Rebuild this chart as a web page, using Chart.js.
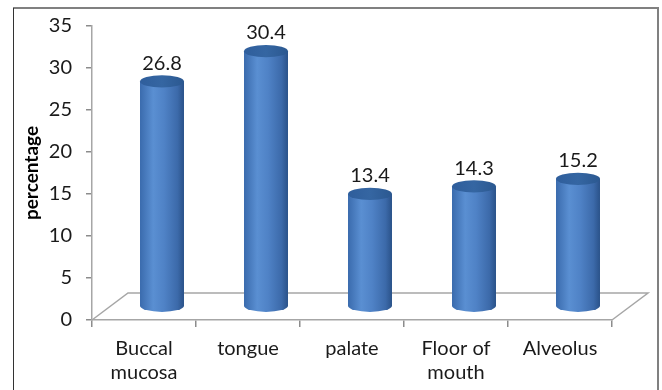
<!DOCTYPE html>
<html>
<head>
<meta charset="utf-8">
<script src="https://cdn.jsdelivr.net/npm/chart.js@4"></script>
<style>
  html, body { margin: 0; padding: 0; background: #fff; }
  canvas { display: block; }
</style>
</head>
<body>
<canvas id="chart" width="662" height="390"></canvas>
<script>
// Chart data
const categories = [["Buccal", "mucosa"], "tongue", "palate", ["Floor of", "mouth"], "Alveolus"];
const percentages = [26.8, 30.4, 13.4, 14.3, 15.2];
const yTicks = [0, 5, 10, 15, 20, 25, 30, 35];

const FONT = "Lato, 'Liberation Sans', sans-serif";
const DEPTH_X = 36, DEPTH_Y = 27; // floor depth of the fake 3D

// Frame round the picture
const framePlugin = {
  id: "frame",
  beforeDraw(chart) {
    const ctx = chart.ctx;
    ctx.save();
    ctx.fillStyle = "#fff";
    ctx.fillRect(0, 0, chart.width, chart.height);
    ctx.strokeStyle = "#808080";
    ctx.lineWidth = 2;
    ctx.beginPath();
    ctx.moveTo(13, 8);
    ctx.lineTo(658, 8);
    ctx.lineTo(658, chart.height);
    ctx.stroke();
    ctx.strokeStyle = "#333";
    ctx.lineWidth = 1;
    ctx.beginPath();
    ctx.moveTo(13.5, 8);
    ctx.lineTo(13.5, chart.height);
    ctx.stroke();
    ctx.restore();
  }
};

// Floor plane of the 3D chart
const floorPlugin = {
  id: "floor",
  beforeDatasetsDraw(chart) {
    const { ctx, chartArea } = chart;
    const l = chartArea.left, r = chartArea.right, b = chartArea.bottom;
    ctx.save();
    ctx.strokeStyle = "#a6a6a6";
    ctx.lineWidth = 1.5;
    ctx.beginPath();
    ctx.moveTo(l, b);
    ctx.lineTo(l + DEPTH_X, b - DEPTH_Y);
    ctx.lineTo(r + DEPTH_X, b - DEPTH_Y);
    ctx.lineTo(r, b);
    ctx.stroke();
    ctx.restore();
  }
};

// Cylinders drawn over the (invisible) bars
const cylinderPlugin = {
  id: "cylinders",
  afterDatasetsDraw(chart) {
    const ctx = chart.ctx;
    const meta = chart.getDatasetMeta(0);
    meta.data.forEach((bar, i) => {
      const w = bar.width;
      const cx = bar.x + DEPTH_X / 2;
      const top = bar.y - DEPTH_Y / 2;
      const base = bar.base - DEPTH_Y / 2;
      const rx = w / 2, ry = w * 0.14;
      const x0 = cx - rx, x1 = cx + rx;

      ctx.save();
      const grad = ctx.createLinearGradient(x0, 0, x1, 0);
      grad.addColorStop(0, "#3a6bad");
      grad.addColorStop(0.3, "#5a8fd2");
      grad.addColorStop(0.55, "#4f82c6");
      grad.addColorStop(0.85, "#3c6aaa");
      grad.addColorStop(1, "#2a5289");
      ctx.fillStyle = grad;
      ctx.beginPath();
      ctx.moveTo(x0, top);
      ctx.lineTo(x0, base);
      ctx.ellipse(cx, base, rx, ry, 0, Math.PI, 0, true);
      ctx.lineTo(x1, top);
      ctx.closePath();
      ctx.fill();

      const capGrad = ctx.createLinearGradient(x0, 0, x1, 0);
      capGrad.addColorStop(0, "#2f5e9c");
      capGrad.addColorStop(0.5, "#3566a2");
      capGrad.addColorStop(1, "#2b5890");
      ctx.fillStyle = capGrad;
      ctx.beginPath();
      ctx.ellipse(cx, top, rx, ry, 0, 0, Math.PI * 2);
      ctx.fill();

      ctx.fillStyle = "#1a1a1a";
      ctx.font = "20px " + FONT;
      ctx.textAlign = "center";
      ctx.textBaseline = "bottom";
      ctx.fillText(percentages[i].toFixed(1), cx, top - ry - 2);
      ctx.restore();
    });
  }
};

new Chart(document.getElementById("chart"), {
  type: "bar",
  data: {
    labels: categories,
    datasets: [{
      data: percentages,
      backgroundColor: "rgba(0,0,0,0)",
      borderWidth: 0,
      categoryPercentage: 1,
      barPercentage: 0.423
    }]
  },
  options: {
    responsive: false,
    animation: false,
    layout: { padding: { top: 24, right: 50, left: 0, bottom: 0 } },
    plugins: {
      legend: { display: false },
      tooltip: { enabled: false }
    },
    scales: {
      x: {
        grid: { display: true, drawOnChartArea: false, tickLength: 7, color: "#8c8c8c", lineWidth: 1.5 },
        border: { display: true, color: "#a6a6a6", width: 1.5 },
        ticks: { color: "#1a1a1a", font: { family: FONT, size: 20 }, padding: 10, maxRotation: 0 },
        afterFit(scale) { scale.height = 70; }
      },
      y: {
        min: 0,
        max: 35,
        afterBuildTicks(scale) { scale.ticks = yTicks.map(v => ({ value: v })); },
        grid: { display: true, drawOnChartArea: false, tickLength: 6, color: "#8c8c8c", lineWidth: 1.5 },
        border: { display: true, color: "#a6a6a6", width: 1.5 },
        ticks: { color: "#1a1a1a", font: { family: FONT, size: 20 }, padding: 14 },
        title: {
          display: true,
          text: "percentage",
          color: "#000",
          font: { family: FONT, size: 19, weight: "bold" },
          padding: { top: 20, bottom: 0 }
        },
        afterFit(scale) { scale.width = 92; }
      }
    }
  },
  plugins: [framePlugin, floorPlugin, cylinderPlugin]
});
</script>
</body>
</html>
